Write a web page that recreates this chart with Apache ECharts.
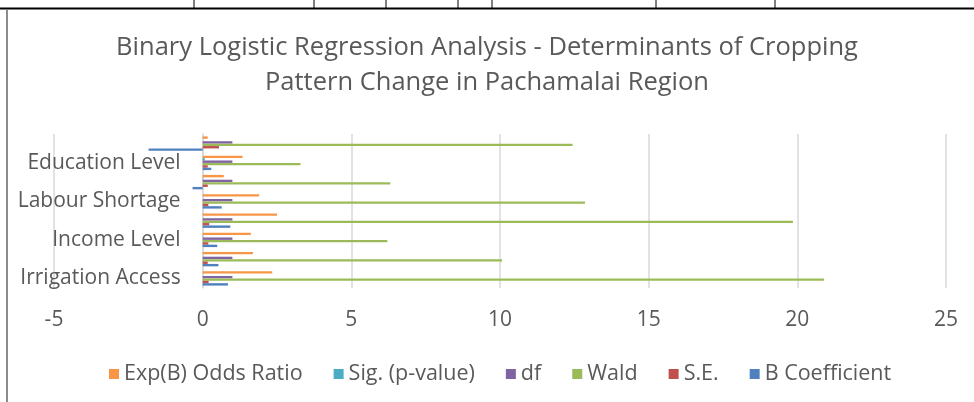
<!DOCTYPE html>
<html>
<head>
<meta charset="utf-8">
<script src="https://cdn.jsdelivr.net/npm/echarts@6/dist/echarts.min.js"></script>
<style>
  html, body { margin: 0; padding: 0; background: #fff; }
  #chart { width: 974px; height: 402px; }
</style>
</head>
<body>
<div id="chart"></div>
<script>
// categories, bottom to top (only every other one gets a label in the picture)
var categories = ["Irrigation Access", "Market Access", "Income Level", "Land Holding Size",
  "Labour Shortage", "Family Size", "Education Level", "Farmer Age"];
var expB = [2.34, 1.69, 1.62, 2.50, 1.90, 0.71, 1.34, 0.17];
var sigP = [0.000, 0.002, 0.013, 0.000, 0.000, 0.012, 0.070, 0.000];
var dfVals = [1, 1, 1, 1, 1, 1, 1, 1];
var wald = [20.90, 10.07, 6.21, 19.85, 12.86, 6.31, 3.29, 12.44];
var seVals = [0.20, 0.17, 0.19, 0.22, 0.19, 0.17, 0.17, 0.55];
var bCoef = [0.85, 0.53, 0.49, 0.93, 0.64, -0.34, 0.29, -1.82];
var xTicks = [-5, 0, 5, 10, 15, 20, 25];

var seriesNames = ["Exp(B) Odds Ratio", "Sig. (p-value)", "df", "Wald", "S.E.", "B Coefficient"];
var seriesData = [expB, sigP, dfVals, wald, seVals, bCoef];
var colors = ["#f79646", "#4bacc6", "#8064a2", "#9bbb59", "#c0504d", "#4f81bd"];

var font = "Open Sans";
var gridLeft = 54, gridRight = 28;
// shift the category axis so its line and labels sit at x = 0
var zeroShift = (974 - gridLeft - gridRight) * (0 - xTicks[0]) / (xTicks[xTicks.length - 1] - xTicks[0]);

var chart = echarts.init(document.getElementById("chart"));

var series = seriesNames.map(function (name, i) {
  return {
    name: name,
    type: "bar",
    data: seriesData[i],
    barGap: "0%",
    barCategoryGap: "25%",
    itemStyle: { color: colors[i] }
  };
});

chart.setOption({
  animation: false,
  color: colors,
  title: {
    text: "Binary Logistic Regression Analysis - Determinants of Cropping\nPattern Change in Pachamalai Region",
    left: "center",
    top: 30,
    padding: 0,
    textStyle: { fontFamily: font, fontSize: 25.5, fontWeight: "normal", color: "#595959", lineHeight: 35 }
  },
  legend: {
    data: seriesNames,
    left: 104,
    top: 358,
    icon: "rect",
    itemWidth: 10,
    itemHeight: 10,
    itemGap: 31,
    textStyle: { fontFamily: font, fontSize: 21.5, color: "#595959" }
  },
  grid: { left: gridLeft, right: gridRight, top: 134, bottom: 114, outerBoundsMode: "none" },
  xAxis: {
    type: "value",
    min: xTicks[0],
    max: xTicks[xTicks.length - 1],
    interval: 5,
    axisLine: { show: false },
    axisTick: { show: false },
    axisLabel: { fontFamily: font, fontSize: 21, color: "#595959", margin: 22 },
    splitLine: { lineStyle: { color: "#d9d9d9", width: 1.5 } }
  },
  yAxis: {
    type: "category",
    data: categories,
    offset: -zeroShift,
    axisLine: { show: true, onZero: false, lineStyle: { color: "#d9d9d9", width: 1.5 } },
    axisTick: { show: false },
    axisLabel: { interval: 1, fontFamily: font, fontSize: 21, color: "#595959", margin: 22 }
  },
  graphic: [
    { type: "line", shape: { x1: 0, y1: 8.5, x2: 974, y2: 8.5 }, style: { stroke: "#000", lineWidth: 2 } },
    { type: "line", shape: { x1: 194, y1: 0, x2: 194, y2: 8 }, style: { stroke: "#000", lineWidth: 1 } },
    { type: "line", shape: { x1: 314, y1: 0, x2: 314, y2: 8 }, style: { stroke: "#000", lineWidth: 1 } },
    { type: "line", shape: { x1: 386, y1: 0, x2: 386, y2: 8 }, style: { stroke: "#000", lineWidth: 1 } },
    { type: "line", shape: { x1: 458, y1: 0, x2: 458, y2: 8 }, style: { stroke: "#000", lineWidth: 1 } },
    { type: "line", shape: { x1: 492, y1: 0, x2: 492, y2: 8 }, style: { stroke: "#000", lineWidth: 1 } },
    { type: "line", shape: { x1: 656, y1: 0, x2: 656, y2: 8 }, style: { stroke: "#000", lineWidth: 1 } },
    { type: "line", shape: { x1: 775, y1: 0, x2: 775, y2: 8 }, style: { stroke: "#000", lineWidth: 1 } },
    { type: "line", shape: { x1: 7, y1: 10, x2: 7, y2: 402 }, style: { stroke: "#8c8c8c", lineWidth: 2 } }
  ],
  series: series
});
</script>
</body>
</html>
